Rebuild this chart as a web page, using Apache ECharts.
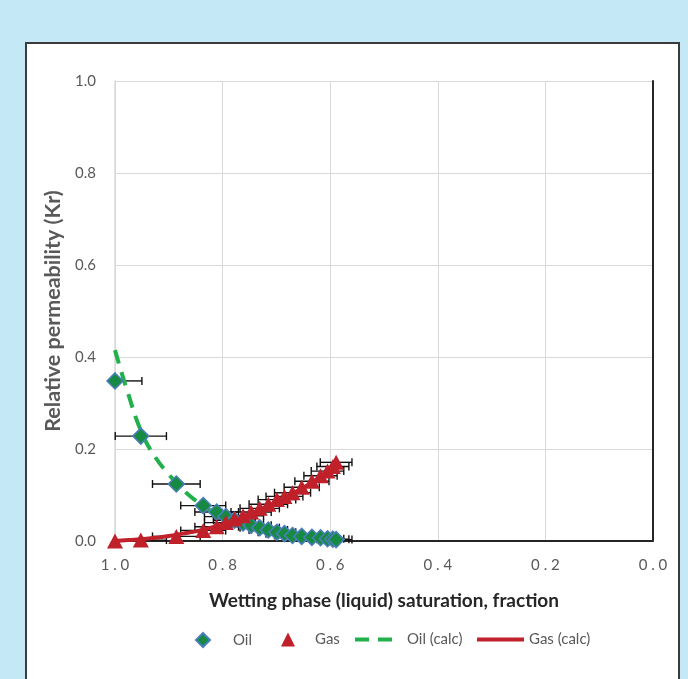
<!DOCTYPE html>
<html>
<head>
<meta charset="utf-8">
<script src="https://cdn.jsdelivr.net/npm/echarts@6/dist/echarts.min.js"></script>
<style>
  html, body { margin: 0; padding: 0; background: #c5e8f7; }
  .panel {
    position: absolute; left: 25px; top: 42px; width: 655px; height: 660px;
    background: #fff; border: 2px solid #3b3b3b; box-sizing: border-box;
  }
  #chart { position: absolute; left: 0; top: 0; width: 688px; height: 679px; }
</style>
</head>
<body>
<div class="panel"></div>
<div id="chart"></div>
<script>
// measured points (saturation, fraction)
const satData = [1.0, 0.952, 0.886, 0.836, 0.811, 0.794, 0.778, 0.762, 0.747, 0.731, 0.715, 0.699, 0.685, 0.67, 0.653, 0.634, 0.618, 0.605, 0.595, 0.589]
const oilKr = [0.348, 0.228, 0.124, 0.077, 0.063, 0.053, 0.045, 0.039, 0.034, 0.029, 0.024, 0.019, 0.016, 0.012, 0.010, 0.008, 0.007, 0.005, 0.004, 0.003]
const gasKr = [0.0, 0.002, 0.010, 0.023, 0.031, 0.040, 0.048, 0.055, 0.063, 0.071, 0.080, 0.090, 0.097, 0.105, 0.117, 0.130, 0.142, 0.152, 0.162, 0.171]

// calculated curves
const calcSat = [1.0, 0.975, 0.95, 0.925, 0.9, 0.875, 0.85, 0.825, 0.8, 0.775, 0.75, 0.725, 0.7, 0.675, 0.65, 0.625, 0.6, 0.589]
const oilCalc = [0.415, 0.318, 0.235, 0.182, 0.145, 0.113, 0.088, 0.068, 0.052, 0.041, 0.032, 0.025, 0.019, 0.014, 0.010, 0.007, 0.005, 0.004]
const gasCalc = [0.0, 0.002, 0.004, 0.007, 0.011, 0.016, 0.021, 0.028, 0.036, 0.046, 0.058, 0.071, 0.085, 0.100, 0.116, 0.134, 0.155, 0.165]

const xTicks = [0, 0.2, 0.4, 0.6, 0.8, 1.0]
const yTicks = [0, 0.2, 0.4, 0.6, 0.8, 1.0]
const ERR_PCT = 0.05 // horizontal error bars, percent of x

const FONT = 'Lato, "Open Sans", sans-serif'
const zip = (xs, ys) => xs.map((x, i) => [x, ys[i]])

// horizontal error bar with caps
function errorBar (params, api) {
  const x = api.value(0)
  const y = api.value(1)
  const half = x * ERR_PCT
  const hi = Math.min(x + half, xTicks[xTicks.length - 1])
  const lo = Math.max(x - half, xTicks[0])
  const a = api.coord([hi, y])
  const b = api.coord([lo, y])
  const cap = 4
  const style = { stroke: '#111', lineWidth: 1.4 }
  return {
    type: 'group',
    children: [
      { type: 'line', shape: { x1: a[0], y1: a[1], x2: b[0], y2: b[1] }, style },
      { type: 'line', shape: { x1: a[0], y1: a[1] - cap, x2: a[0], y2: a[1] + cap }, style },
      { type: 'line', shape: { x1: b[0], y1: b[1] - cap, x2: b[0], y2: b[1] + cap }, style }
    ]
  }
}

// one legend per entry so each sits where Excel put it
function legendItem (name, left, iconWidth, textGap, lineOnly) {
  const item = {
    data: [name],
    left,
    top: 627,
    itemWidth: iconWidth,
    itemHeight: 14,
    selectedMode: false,
    textStyle: {
      color: '#595959',
      fontSize: 15,
      fontFamily: FONT,
      padding: [0, 0, 0, textGap]
    }
  }
  if (lineOnly) {
    // hide the symbol that line series put in the middle of their legend icon
    item.itemStyle = { color: 'rgba(0,0,0,0)', borderWidth: 0, opacity: 0 }
    item.lineStyle = { width: 4 }
  }
  return item
}

const chart = echarts.init(document.getElementById('chart'))

const option = {
  backgroundColor: 'transparent',
  animation: false,
  textStyle: { fontFamily: FONT },
  grid: { left: 115, top: 81, right: 35, bottom: 138 },
  legend: [
    legendItem('Oil', 190, 14, 18),
    legendItem('Gas', 276, 14, 15),
    legendItem('Oil (calc)', 348, 45, 2, true),
    legendItem('Gas (calc)', 470, 47, 0, true)
  ],
  xAxis: [
    {
      type: 'value',
      min: xTicks[0],
      max: xTicks[xTicks.length - 1],
      interval: 0.2,
      inverse: true,
      name: 'Wetting phase (liquid) saturation, fraction',
      nameLocation: 'middle',
      nameGap: 50,
      nameTextStyle: { color: '#262626', fontSize: 19, fontWeight: 'bold', fontFamily: FONT },
      axisLine: { lineStyle: { color: '#d9d9d9', width: 1.5 } },
      axisTick: { show: false },
      axisLabel: {
        margin: 17,
        color: '#595959',
        fontSize: 15,
        formatter: v => v.toFixed(1).split('').join(' ')
      },
      splitLine: { lineStyle: { color: '#d9d9d9', width: 1 } }
    },
    {
      type: 'value',
      position: 'top',
      min: xTicks[0],
      max: xTicks[xTicks.length - 1],
      inverse: true,
      axisLine: { lineStyle: { color: '#262626', width: 2 } },
      axisTick: { show: false },
      axisLabel: { show: false },
      splitLine: { show: false }
    }
  ],
  yAxis: [
    {
      type: 'value',
      min: yTicks[0],
      max: yTicks[yTicks.length - 1],
      interval: 0.2,
      name: 'Relative permeability (Kr)',
      nameLocation: 'middle',
      nameGap: 48,
      nameTextStyle: { color: '#595959', fontSize: 21.5, fontWeight: 'bold', fontFamily: FONT },
      axisLine: { show: true, onZero: false, lineStyle: { color: '#d9d9d9', width: 1.5 } },
      axisTick: { show: false },
      axisLabel: {
        margin: 19,
        color: '#595959',
        fontSize: 15,
        formatter: v => v.toFixed(1)
      },
      splitLine: { lineStyle: { color: '#d9d9d9', width: 1 } }
    },
    {
      type: 'value',
      position: 'right',
      min: yTicks[0],
      max: yTicks[yTicks.length - 1],
      axisLine: { show: true, onZero: false, lineStyle: { color: '#262626', width: 2 } },
      axisTick: { show: false },
      axisLabel: { show: false },
      splitLine: { show: false }
    }
  ],
  series: [
    {
      name: 'oilErr',
      type: 'custom',
      renderItem: errorBar,
      data: zip(satData, oilKr),
      z: 1,
      silent: true
    },
    {
      name: 'gasErr',
      type: 'custom',
      renderItem: errorBar,
      data: zip(satData, gasKr),
      z: 1,
      silent: true
    },
    {
      name: 'Oil (calc)',
      type: 'line',
      data: zip(calcSat, oilCalc),
      symbol: 'none',
      smooth: true,
      lineStyle: { color: '#21b04b', width: 4, type: [14, 9] },
      itemStyle: { color: '#21b04b' },
      z: 2
    },
    {
      name: 'Gas (calc)',
      type: 'line',
      data: zip(calcSat, gasCalc),
      symbol: 'none',
      smooth: true,
      lineStyle: { color: '#c0212b', width: 4 },
      itemStyle: { color: '#c0212b' },
      z: 2
    },
    {
      name: 'Oil',
      type: 'scatter',
      data: zip(satData, oilKr),
      symbol: 'diamond',
      symbolSize: [16, 16],
      itemStyle: { color: '#178a42', borderColor: '#4a7ebb', borderWidth: 1.5, opacity: 1 },
      z: 3
    },
    {
      name: 'Gas',
      type: 'scatter',
      data: zip(satData, gasKr),
      symbol: 'triangle',
      symbolSize: [16, 15],
      itemStyle: { color: '#c0202a', opacity: 1 },
      z: 4
    }
  ]
}

chart.setOption(option)
</script>
</body>
</html>
